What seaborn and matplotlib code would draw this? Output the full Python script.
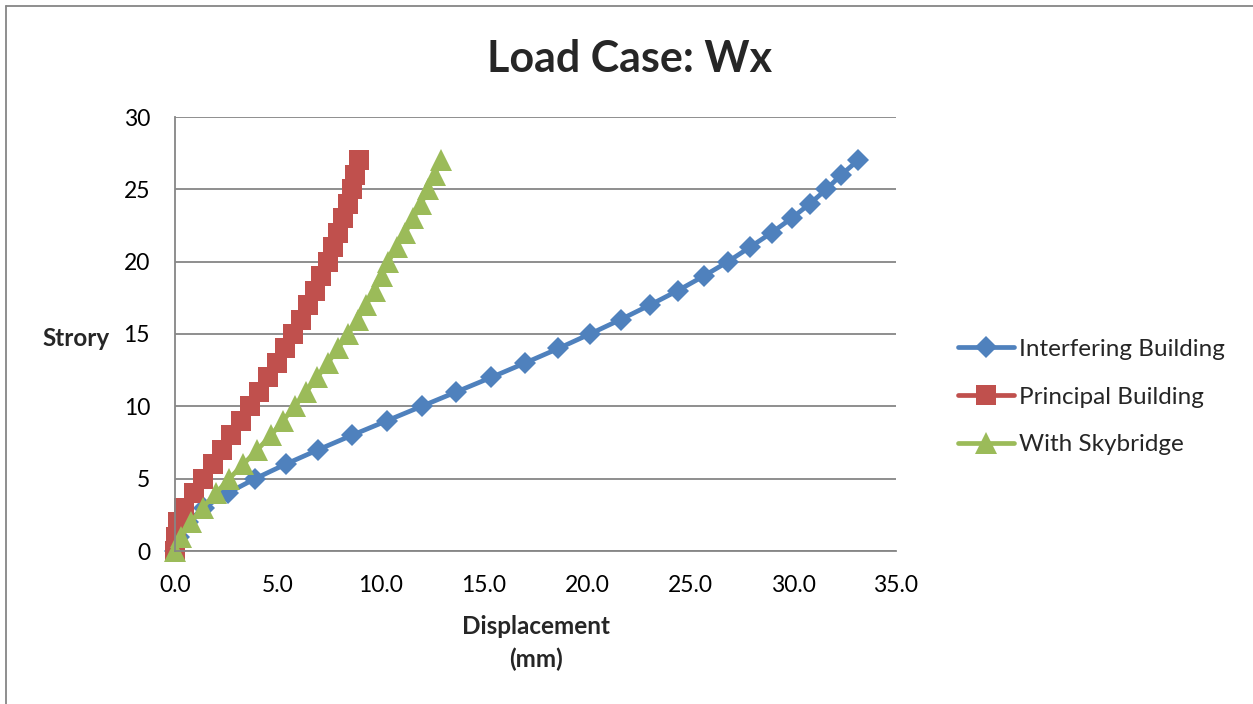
import matplotlib
matplotlib.use("Agg")
import matplotlib.pyplot as plt
from matplotlib.lines import Line2D
import seaborn as sns
import numpy as np

sns.set_theme(style="white")
plt.rcParams['font.family'] = ['Lato', 'DejaVu Sans']

stories = list(range(0, 28))
interfering = [0.0, 0.2, 0.62, 1.39, 2.55, 3.89, 5.37, 6.95, 8.59, 10.28,
               11.97, 13.66, 15.35, 17.0, 18.61, 20.14, 21.63, 23.05, 24.41, 25.66,
               26.84, 27.91, 28.96, 29.93, 30.81, 31.62, 32.34, 33.15]
principal = [0.0, 0.03, 0.14, 0.46, 0.91, 1.34, 1.83, 2.28, 2.73, 3.2,
             3.65, 4.08, 4.52, 4.94, 5.34, 5.72, 6.1, 6.45, 6.79, 7.11,
             7.42, 7.67, 7.91, 8.15, 8.38, 8.59, 8.75, 8.95]
skybridge = [0.0, 0.3, 0.78, 1.34, 1.99, 2.63, 3.32, 4.0, 4.66, 5.24,
             5.81, 6.37, 6.9, 7.42, 7.91, 8.4, 8.86, 9.27, 9.69, 10.04,
             10.36, 10.76, 11.17, 11.57, 11.94, 12.29, 12.62, 12.89]
series_names = ["Interfering Building", "Principal Building", "With Skybridge"]
x_ticks = [0, 5, 10, 15, 20, 25, 30, 35]
y_ticks = [0, 5, 10, 15, 20, 25, 30]

W, H = 1253, 704
fig = plt.figure(figsize=(W / 100, H / 100), dpi=100)
ax = fig.add_axes([175 / W, 1 - 551 / H, (896 - 175) / W, (551 - 117) / H])

colors = ["#4F81BD", "#C0504D", "#9BBB59"]
markers = ["D", "s", "^"]
msizes = [10.8, 15, 15.5]
for data, name, c, m, ms in zip([interfering, principal, skybridge], series_names, colors, markers, msizes):
    sns.lineplot(x=data, y=stories, ax=ax, sort=False, color=c, marker=m,
                 markersize=ms, markeredgewidth=0, linewidth=3.4, label=name,
                 clip_on=False)

gray = "#868686"
ax.set_xlim(0, 35)
ax.set_ylim(0, 30)
ax.set_xticks(x_ticks)
ax.set_xticklabels([f"{v:.1f}" for v in x_ticks])
ax.set_yticks(y_ticks)
ax.set_yticklabels([str(v) for v in y_ticks])
ax.grid(axis="y", color=gray, linewidth=1.3)
ax.grid(axis="x", visible=False)
ax.set_axisbelow(True)
for s in ["top", "right"]:
    ax.spines[s].set_visible(False)
for s in ["left", "bottom"]:
    ax.spines[s].set_color(gray)
    ax.spines[s].set_linewidth(1.3)
ax.tick_params(axis="both", direction="out", length=6, width=1.3, color=gray,
               labelsize=16.5, labelcolor="black", pad=11)
ax.tick_params(axis="y", pad=12)

ax.set_ylabel("Strory", rotation=0, fontsize=17.5, fontweight="bold", ha="right", va="center")
ax.yaxis.set_label_coords((110 - 175) / 721, 0.49)
ax.set_xlabel("Displacement\n(mm)", fontsize=17.5, fontweight="bold", linespacing=1.5, va="top")
ax.xaxis.set_label_coords(0.5, -(615 - 551) / 434)

fig.text(630 / W, 1 - 59 / H, "Load Case: Wx", fontsize=31, fontweight="bold",
         ha="center", va="center")

leg = ax.legend(loc="center left", bbox_to_anchor=(958 / W, 1 - 397 / H),
                bbox_transform=fig.transFigure, frameon=False, fontsize=17.5,
                handlelength=2.3, handletextpad=0.2, labelspacing=1.1,
                borderpad=0, borderaxespad=0)

# outer chart border (top and left visible)
fig.add_artist(Line2D([6 / W, 1.0], [1 - 5.5 / H, 1 - 5.5 / H], transform=fig.transFigure,
                      color=gray, linewidth=1.3))
fig.add_artist(Line2D([6 / W, 6 / W], [0, 1 - 5.5 / H], transform=fig.transFigure,
                      color=gray, linewidth=1.3))

fig.savefig("out.png", dpi=100)
